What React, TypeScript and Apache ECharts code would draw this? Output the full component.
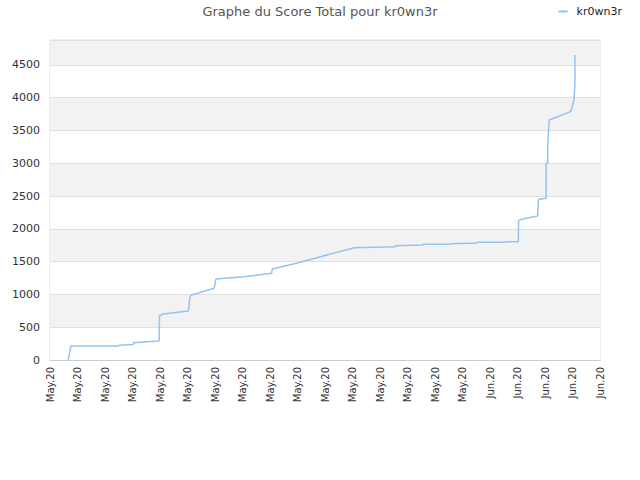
import { useEffect, useRef } from "react";
import * as echarts from "echarts";

// x positions are in label-slot units (0 = first tick, 20 = last tick)
const tickLabels = [
  "May.20", "May.20", "May.20", "May.20", "May.20", "May.20", "May.20",
  "May.20", "May.20", "May.20", "May.20", "May.20", "May.20", "May.20",
  "May.20", "May.20", "Jun.20", "Jun.20", "Jun.20", "Jun.20", "Jun.20",
];

const scoreX = [
  0.66, 0.71, 0.76, 2.48, 2.51, 3.02, 3.04, 3.94, 3.97, 3.98, 4.1, 5.03,
  5.09, 5.15, 5.97, 6.03, 7.03, 8.06, 8.08, 9.0, 10.0, 11.07, 12.55, 12.56,
  13.56, 13.58, 14.55, 14.56, 15.52, 15.53, 16.55, 16.57, 17.03, 17.04,
  17.15, 17.73, 17.76, 17.79, 18.04, 18.04, 18.1, 18.1, 18.15, 18.93,
  19.05, 19.09, 19.09,
];

const scoreY = [
  0, 100, 213, 215, 225, 235, 264, 290, 300, 671, 701, 747, 966, 991, 1093,
  1235, 1270, 1322, 1388, 1480, 1595, 1713, 1728, 1743, 1754, 1764, 1764,
  1774, 1784, 1795, 1795, 1804, 1804, 2124, 2145, 2196, 2440, 2450, 2466,
  3000, 3000, 3279, 3660, 3787, 3950, 4220, 4651,
];

const yTicks = [0, 500, 1000, 1500, 2000, 2500, 3000, 3500, 4000, 4500];

export default function App() {
  const ref = useRef<HTMLDivElement | null>(null);

  useEffect(() => {
    if (!ref.current) return;
    const chart = echarts.init(ref.current, undefined, { renderer: "svg" });
    const font = "DejaVu Sans";

    chart.setOption({
      animation: false,
      textStyle: { fontFamily: font },
      title: {
        text: "Graphe du Score Total pour kr0wn3r",
        left: "center",
        top: 5,
        padding: 0,
        textStyle: { fontSize: 13, fontWeight: "normal", color: "#555", fontFamily: font },
      },
      legend: {
        right: 18,
        top: 6,
        padding: 0,
        icon: "rect",
        itemWidth: 9,
        itemHeight: 2,
        itemGap: 6,
        textStyle: { fontSize: 11, color: "#222", fontFamily: font, padding: [0, 0, 0, 4] },
        data: ["kr0wn3r"],
      },
      grid: {
        left: 50,
        right: 40,
        top: 40,
        bottom: 120,
        show: true,
        borderColor: "#ddd",
        borderWidth: 1,
        backgroundColor: "transparent",
      },
      xAxis: {
        type: "value",
        min: 0,
        max: tickLabels.length - 1,
        interval: 1,
        axisLine: { show: true, lineStyle: { color: "#ccc" } },
        axisTick: { show: false },
        splitLine: { show: false },
        axisLabel: {
          rotate: 90,
          fontSize: 10,
          color: "#333",
          margin: 7,
          fontFamily: font,
          formatter: (v: number) => tickLabels[Math.round(v)] ?? "",
        },
      },
      yAxis: {
        type: "value",
        min: 0,
        max: 4880,
        interval: 500,
        axisLine: { show: false },
        axisTick: { show: false },
        axisLabel: {
          fontSize: 11,
          color: "#333",
          margin: 10,
          fontFamily: font,
          showMaxLabel: false,
          formatter: (v: number) => (yTicks.includes(v) ? String(v) : ""),
        },
        splitLine: { show: true, lineStyle: { color: "#e0e0e0" } },
        splitArea: { show: true, areaStyle: { color: ["#ffffff", "#f2f2f2"] } },
      },
      series: [
        {
          name: "kr0wn3r",
          type: "line",
          showSymbol: false,
          symbol: "none",
          lineStyle: { color: "#93c3f0", width: 1.5 },
          itemStyle: { color: "#93c3f0" },
          data: scoreX.map((x, i) => [x, scoreY[i]]),
        },
      ],
    });

    return () => chart.dispose();
  }, []);

  return (
    <div
      ref={ref}
      style={{ position: "absolute", left: 0, top: 0, width: 640, height: 480 }}
    />
  );
}
